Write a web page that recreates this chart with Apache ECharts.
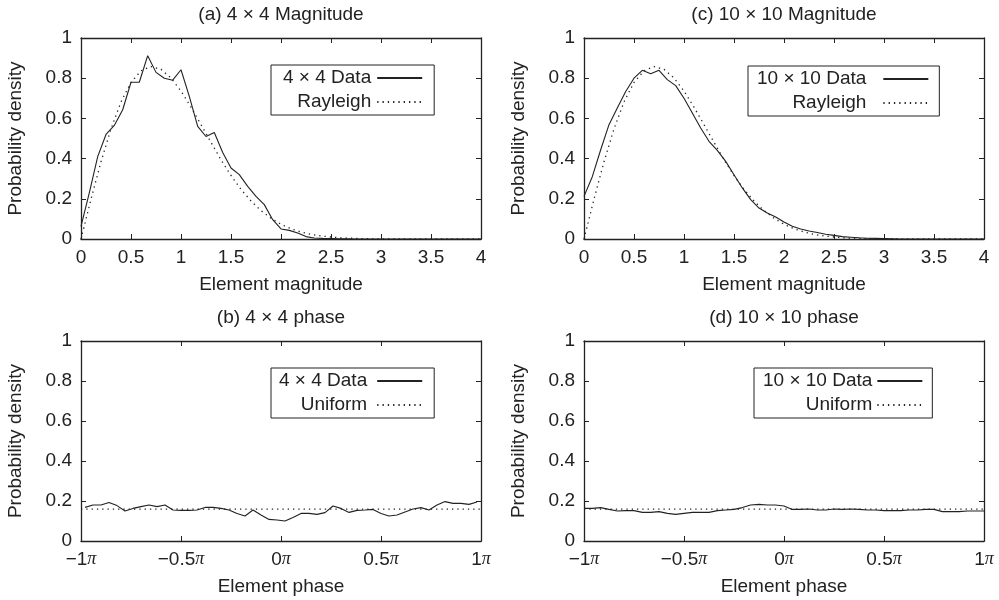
<!DOCTYPE html>
<html>
<head>
<meta charset="utf-8">
<title>Element magnitude and phase densities</title>
<script src="https://cdn.jsdelivr.net/npm/echarts@6/dist/echarts.min.js"></script>
<style>
  html, body { margin: 0; padding: 0; background: #fff; }
  #chart { width: 999px; height: 600px; }
</style>
</head>
<body>
<div id="chart"></div>
<script>
// magnitude histograms, bin centres 0 .. 4
const magX = [0, 0.083, 0.167, 0.25, 0.333, 0.417, 0.5, 0.583, 0.667, 0.75, 0.833, 0.917,
	1, 1.083, 1.167, 1.25, 1.333, 1.417, 1.5, 1.583, 1.667, 1.75, 1.833, 1.917,
	2, 2.083, 2.167, 2.25, 2.333, 2.417, 2.5, 2.583, 2.667, 2.75, 2.833, 2.917,
	3, 3.083, 3.167, 3.25, 3.333, 3.417, 3.5, 3.583, 3.667, 3.75, 3.833, 3.917, 4];
const mag4 = [0.063, 0.23, 0.41, 0.52, 0.565, 0.643, 0.78, 0.78, 0.912, 0.829, 0.80, 0.79,
	0.842, 0.71, 0.56, 0.51, 0.53, 0.43, 0.353, 0.32, 0.262, 0.212, 0.171, 0.096,
	0.05, 0.043, 0.03, 0.012, 0.005, 0.003, 0.002, 0.001, 0.001, 0, 0, 0,
	0, 0, 0, 0, 0, 0, 0, 0, 0, 0, 0, 0, 0];
const mag10 = [0.212, 0.31, 0.444, 0.569, 0.652, 0.734, 0.80, 0.839, 0.822, 0.839, 0.793, 0.763,
	0.70, 0.627, 0.552, 0.486, 0.441, 0.386, 0.32, 0.254, 0.196, 0.154, 0.129, 0.109,
	0.085, 0.063, 0.05, 0.04, 0.032, 0.024, 0.018, 0.012, 0.009, 0.006, 0.004, 0.003,
	0.002, 0.001, 0, 0, 0, 0, 0, 0, 0, 0, 0, 0, 0];

// reference Rayleigh curve
const rayX = [0, 0.1, 0.2, 0.3, 0.4, 0.5, 0.6, 0.7, 0.8, 0.9, 1, 1.1, 1.2, 1.3, 1.4, 1.5, 1.6,
	1.7, 1.8, 1.9, 2, 2.1, 2.2, 2.3, 2.4, 2.5, 2.6, 2.7, 2.8, 2.9, 3, 3.1, 3.2, 3.3, 3.4, 3.5,
	3.6, 3.7, 3.8, 3.9, 4];
const rayY = [0, 0.198, 0.384, 0.548, 0.682, 0.779, 0.837, 0.858, 0.844, 0.801, 0.736, 0.656,
	0.569, 0.481, 0.394, 0.316, 0.247, 0.189, 0.141, 0.103, 0.073, 0.051, 0.035, 0.023, 0.015,
	0.010, 0.006, 0.004, 0.002, 0.001, 0.001, 0, 0, 0, 0, 0, 0, 0, 0, 0, 0];

// phase histograms, x in units of pi
const phase4X = [-0.98, -0.94, -0.90, -0.86, -0.82, -0.78, -0.74, -0.70, -0.66, -0.62,
	-0.58, -0.54, -0.50, -0.46, -0.42, -0.38, -0.34, -0.30, -0.26, -0.22,
	-0.18, -0.14, -0.10, -0.06, -0.02, 0.02, 0.06, 0.10, 0.14, 0.18,
	0.22, 0.26, 0.30, 0.34, 0.38, 0.42, 0.46, 0.50, 0.54, 0.58,
	0.62, 0.66, 0.70, 0.74, 0.78, 0.82, 0.86, 0.90, 0.94, 0.98];
const phase4 = [0.168, 0.18, 0.18, 0.193, 0.177, 0.15, 0.163, 0.172, 0.18, 0.172,
	0.18, 0.155, 0.153, 0.153, 0.155, 0.168, 0.168, 0.163, 0.155, 0.138,
	0.125, 0.155, 0.13, 0.108, 0.105, 0.10, 0.118, 0.138, 0.138, 0.133,
	0.142, 0.175, 0.163, 0.143, 0.153, 0.155, 0.158, 0.138, 0.125, 0.13,
	0.145, 0.16, 0.167, 0.155, 0.18, 0.197, 0.188, 0.188, 0.183, 0.195];
const phase10X = [-1, -0.958, -0.917, -0.875, -0.833, -0.792, -0.75, -0.708, -0.667, -0.625,
	-0.583, -0.542, -0.5, -0.458, -0.417, -0.375, -0.333, -0.292, -0.25, -0.208,
	-0.167, -0.125, -0.083, -0.042, 0, 0.042, 0.083, 0.125, 0.167, 0.208,
	0.25, 0.292, 0.333, 0.375, 0.417, 0.458, 0.5, 0.542, 0.583, 0.625,
	0.667, 0.708, 0.75, 0.792, 0.833, 0.875, 0.917, 0.958, 1];
const phase10 = [0.163, 0.163, 0.167, 0.158, 0.15, 0.152, 0.152, 0.143, 0.143, 0.147,
	0.138, 0.133, 0.138, 0.143, 0.143, 0.143, 0.152, 0.155, 0.158, 0.167,
	0.18, 0.183, 0.18, 0.18, 0.175, 0.158, 0.158, 0.16, 0.155, 0.155,
	0.16, 0.158, 0.16, 0.158, 0.155, 0.155, 0.152, 0.152, 0.152, 0.155,
	0.155, 0.158, 0.158, 0.147, 0.147, 0.147, 0.15, 0.15, 0.15];

// uniform reference 1/(2 pi)
const uniX = [-1, 1];
const uniY = [0.159, 0.159];

// tick labels of the phase axis
const phaseTicks = [-1, -0.5, 0, 0.5, 1];
const phaseLabels = ['\u22121', '\u22120.5', '0', '0.5', '1'];

const FONT = '"Liberation Sans", Arial, Helvetica, sans-serif';
const INK = '#222';
const DOTS = [1.3, 4];

const pairs = (xs, ys) => xs.map((x, i) => [x, ys[i]]);

// grids: 0 = (a), 1 = (c), 2 = (b), 3 = (d)
const panels = [
	{ left: 81, top: 38, height: 201, title: '(a) 4 \u00d7 4 Magnitude', xName: 'Element magnitude', phase: false,
		data: '4 \u00d7 4 Data', ref: 'Rayleigh', line: pairs(magX, mag4), refLine: pairs(rayX, rayY),
		legend: { left: 271, top: 65, pad: [3, 11, 3, 12], extra: 1 } },
	{ left: 584, top: 38, height: 201, title: '(c) 10 \u00d7 10 Magnitude', xName: 'Element magnitude', phase: false,
		data: '10 \u00d7 10 Data', ref: 'Rayleigh', line: pairs(magX, mag10), refLine: pairs(rayX, rayY),
		legend: { left: 748, top: 66, pad: [3, 10, 3, 9], extra: 12 } },
	{ left: 81, top: 341, height: 200, title: '(b) 4 \u00d7 4 phase', xName: 'Element phase', phase: true,
		data: '4 \u00d7 4 Data', ref: 'Uniform', line: pairs(phase4X, phase4), refLine: pairs(uniX, uniY),
		legend: { left: 271, top: 368, pad: [3, 11, 3, 8], extra: 5 } },
	{ left: 584, top: 341, height: 200, title: '(d) 10 \u00d7 10 phase', xName: 'Element phase', phase: true,
		data: '10 \u00d7 10 Data', ref: 'Uniform', line: pairs(phase10X, phase10), refLine: pairs(uniX, uniY),
		legend: { left: 754, top: 368, pad: [3, 9, 3, 9], extra: 0 } }
];

const axisLine = { show: true, onZero: false, lineStyle: { color: INK, width: 1.3 } };
const axisTick = { show: true, inside: true, length: 5, lineStyle: { color: INK, width: 1 } };
const labelText = { fontFamily: FONT, fontSize: 19, color: INK };

function phaseLabel(v) {
	const i = phaseTicks.indexOf(Math.round(v * 10) / 10);
	return (i < 0 ? v : phaseLabels[i]) + '{pi|\u03c0}';
}

const option = {
	animation: false,
	backgroundColor: '#fff',
	title: [], grid: [], xAxis: [], yAxis: [], legend: [], series: []
};

panels.forEach((p, g) => {
	const cx = p.left + 200;
	option.title.push({
		text: p.title, left: cx, top: p.top - 33, textAlign: 'center', padding: 0,
		textStyle: { fontFamily: FONT, fontSize: 19, fontWeight: 'normal', color: INK }
	});
	option.grid.push({ left: p.left, top: p.top, width: 400, height: p.height, outerBoundsMode: 'none' });

	const xRange = p.phase ? { min: -1, max: 1, interval: 0.5 } : { min: 0, max: 4, interval: 0.5 };
	option.xAxis.push(Object.assign({
		gridIndex: g, type: 'value', position: 'bottom',
		axisLine, axisTick, splitLine: { show: false },
		axisLabel: Object.assign({
			margin: 9, showMinLabel: true, showMaxLabel: true, hideOverlap: false,
			formatter: p.phase ? phaseLabel : null,
			rich: { pi: { fontFamily: '"Liberation Serif", "DejaVu Serif", serif', fontStyle: 'italic', fontSize: 18, color: INK } }
		}, labelText),
		name: p.xName, nameLocation: 'middle', nameGap: 36,
		nameTextStyle: { fontFamily: FONT, fontSize: 19, color: INK }
	}, xRange));
	// mirrored top axis for the box and inward ticks
	option.xAxis.push(Object.assign({
		gridIndex: g, type: 'value', position: 'top',
		axisLine, axisTick, splitLine: { show: false }, axisLabel: { show: false }
	}, xRange));

	option.yAxis.push({
		gridIndex: g, type: 'value', position: 'left', min: 0, max: 1, interval: 0.2,
		axisLine, axisTick, splitLine: { show: false },
		axisLabel: Object.assign({ margin: 9, showMinLabel: true, showMaxLabel: true }, labelText),
		name: 'Probability density', nameLocation: 'middle', nameGap: 56,
		nameTextStyle: { fontFamily: FONT, fontSize: 19, color: INK }
	});
	option.yAxis.push({
		gridIndex: g, type: 'value', position: 'right', min: 0, max: 1, interval: 0.2,
		axisLine, axisTick, splitLine: { show: false }, axisLabel: { show: false }
	});

	option.series.push({
		type: 'line', name: p.data, xAxisIndex: 2 * g, yAxisIndex: 2 * g,
		data: p.line, symbol: 'none', silent: true,
		lineStyle: { color: INK, width: 1.1 }, itemStyle: { color: INK }, z: 3
	});
	option.series.push({
		type: 'line', name: p.ref, xAxisIndex: 2 * g, yAxisIndex: 2 * g,
		data: p.refLine, symbol: 'none', silent: true,
		lineStyle: { color: INK, width: 1.3, type: DOTS }, itemStyle: { color: INK }, z: 2
	});

	option.legend.push({
		left: p.legend.left, top: p.legend.top, orient: 'vertical', align: 'right',
		itemWidth: 45, itemHeight: 14, itemGap: 4, padding: p.legend.pad,
		borderColor: INK, borderWidth: 1, backgroundColor: '#fff',
		selectedMode: false, itemStyle: { opacity: 0 },
		textStyle: { fontFamily: FONT, fontSize: 19, color: INK, lineHeight: 20, padding: [0, p.legend.extra, 0, 0] },
		data: [p.data, p.ref]
	});
});

const chart = echarts.init(document.getElementById('chart'));
chart.setOption(option);
</script>
</body>
</html>
